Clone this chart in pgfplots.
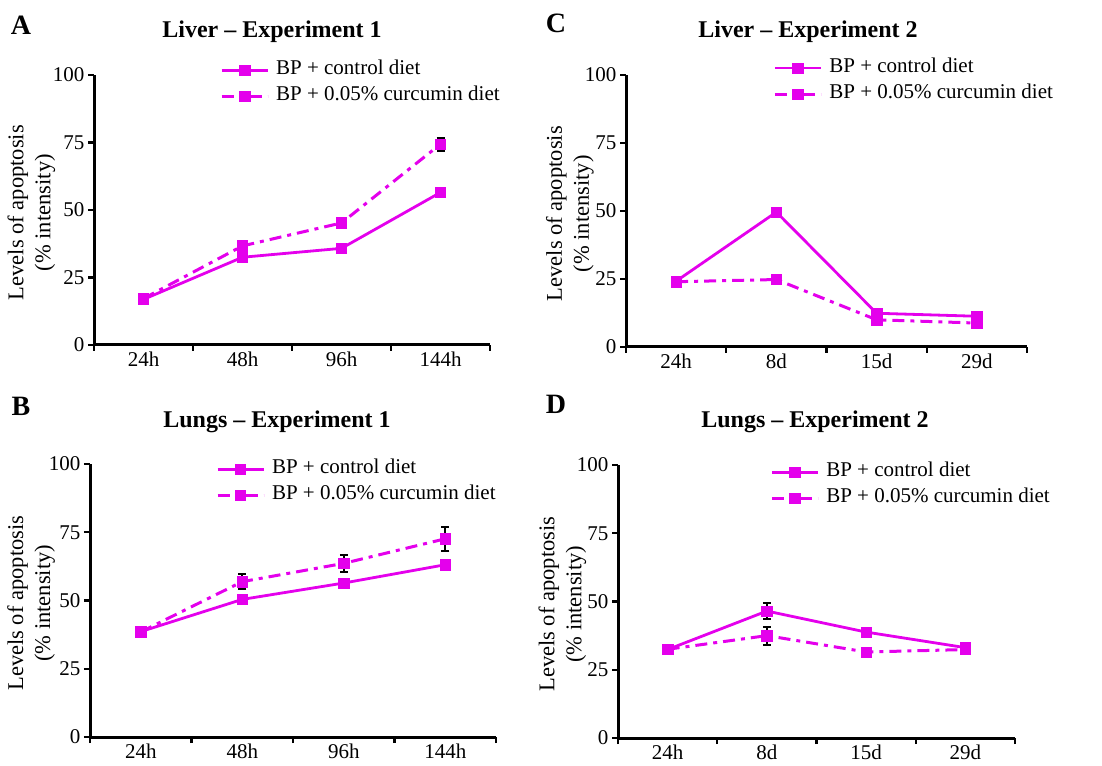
\documentclass[border=0pt]{standalone}
\usepackage{pgfplots}
\pgfplotsset{compat=1.18}
\usepackage{fontspec}
\setmainfont{Liberation Serif}
\definecolor{mag}{RGB}{228,0,236}
\pgfplotsset{
  panel/.style={
    scale only axis,
    axis x line=bottom, axis y line=left,
    axis line style={-, line width=3pt, black},
    xmin=-0.5, xmax=3.5, ymin=0, ymax=100,
    xtick={-0.5,0.5,1.5,2.5,3.5},
    x tick label as interval,
    ytick={0,25,50,75,100},
    tick align=outside,
    major tick length=6pt,
    every tick/.style={black, line width=2.2pt},
    /pgf/number format/assume math mode=true,
    tick label style={font=\fontsize{21}{25}\selectfont},
    xticklabel style={yshift=3pt},
    label style={font=\fontsize{22.5}{27}\selectfont},
    ylabel={Levels of apoptosis\\(\% intensity)},
    ylabel style={align=center, anchor=center},
    legend style={anchor=north west, draw=none, fill=none,
      font=\fontsize{21}{26}\selectfont, inner sep=0pt, row sep=0pt,
      cells={anchor=west},
      nodes={inner xsep=7pt, inner ysep=3.5pt, text height=14pt, text depth=5pt}},
    legend image code/.code={
      \draw[mark repeat=2,mark phase=2,##1] plot coordinates {(0pt,0pt) (23pt,0pt) (46pt,0pt)};
    },
  },
  ylab/.style={ylabel style={at={(axis description cs:#1,0.49)}}},
  ctl/.style={mag, line width=2.8pt, mark=square*, mark size=5.2pt, mark options={solid, fill=mag, draw=mag, line width=0.6pt}},
  cur/.style={mag, line width=3pt, dash pattern=on 12pt off 6pt on 4pt off 6pt, mark=square*, mark size=5.2pt, mark options={solid, fill=mag, draw=mag, line width=0.6pt}},
  eb/.style={error bars/.cd, y dir=both, y explicit,
    error bar style={black, line width=2pt, solid},
    error mark options={black, line width=2pt, mark size=4pt, rotate=90, solid}},
}
\begin{document}
\begin{tikzpicture}[x=1pt,y=1pt]
\useasboundingbox (0,0) rectangle (1102,765);
% ---------- A ----------
\begin{axis}[panel, at={(94pt,420pt)}, anchor=south west, width=396pt, height=270pt,
  ylab=-0.158,
  xticklabels={24h,48h,96h,144h},
  legend style={at={(rel axis cs:0.318,1.067)}}]
\addplot[ctl] table[x=x,y=y]{
x y
0 16.9
1 32.5
2 35.8
3 56.5
};
\addlegendentry{BP + control diet}
\addplot[cur, eb] table[x=x,y=y,y error=e]{
x y e
0 17.2 0.5
1 36.7 1
2 45.2 1
3 74.4 2.4
};
\addlegendentry{BP + 0.05\% curcumin diet}
\end{axis}
% ---------- C ----------
\begin{axis}[panel, at={(626pt,418pt)}, anchor=south west, width=401pt, height=272pt,
  ylab=-0.14,
  xticklabels={24h,8d,15d,29d},
  legend style={at={(rel axis cs:0.367,1.074)}}]
\addplot[ctl] table[x=x,y=y]{
x y
0 24.2
1 49.6
2 12.4
3 11.3
};
\addlegendentry{BP + control diet}
\addplot[cur] table[x=x,y=y]{
x y
0 24.0
1 24.8
2 10.0
3 8.8
};
\addlegendentry{BP + 0.05\% curcumin diet}
\end{axis}
% ---------- B ----------
\begin{axis}[panel, at={(90pt,28pt)}, anchor=south west, width=406pt, height=273pt,
  ylab=-0.145,
  xticklabels={24h,48h,96h,144h},
  legend style={at={(rel axis cs:0.310,1.029)}}]
\addplot[ctl] table[x=x,y=y]{
x y
0 38.6
1 50.4
2 56.4
3 63.1
};
\addlegendentry{BP + control diet}
\addplot[cur, eb] table[x=x,y=y,y error=e]{
x y e
0 38.5 0.5
1 56.9 2.8
2 63.6 3.1
3 72.6 4.3
};
\addlegendentry{BP + 0.05\% curcumin diet}
\end{axis}
% ---------- D ----------
\begin{axis}[panel, at={(618pt,27pt)}, anchor=south west, width=397pt, height=273pt,
  ylab=-0.14,
  xticklabels={24h,8d,15d,29d},
  legend style={at={(rel axis cs:0.383,1.022)}}]
\addplot[ctl, eb] table[x=x,y=y,y error=e]{
x y e
0 32.4 0.5
1 46.5 3
2 38.8 0.5
3 33.1 0.5
};
\addlegendentry{BP + control diet}
\addplot[cur, eb] table[x=x,y=y,y error=e]{
x y e
0 32.5 0.5
1 37.5 3.3
2 31.5 0.5
3 32.4 0.5
};
\addlegendentry{BP + 0.05\% curcumin diet}
\end{axis}
% ---------- titles and panel letters ----------
\begin{scope}[every node/.style={font=\bfseries\fontsize{24}{28}\selectfont}]
\node at (272,733) {Liver -- Experiment 1};
\node at (808,733) {Liver -- Experiment 2};
\node at (277,343) {Lungs -- Experiment 1};
\node at (815,343) {Lungs -- Experiment 2};
\end{scope}
\begin{scope}[every node/.style={font=\bfseries\fontsize{28}{30}\selectfont}]
\node at (21,740) {A};
\node at (556,742) {C};
\node at (21,359) {B};
\node at (556,361) {D};
\end{scope}
\end{tikzpicture}
\end{document}
